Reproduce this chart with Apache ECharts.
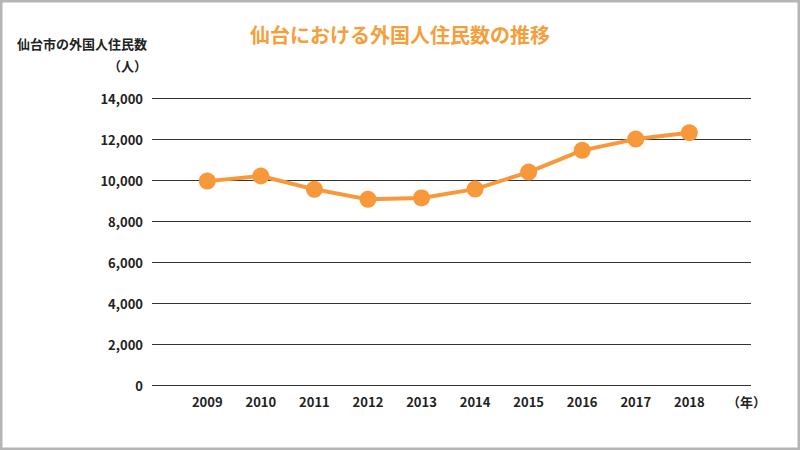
<!DOCTYPE html>
<html>
<head>
<meta charset="utf-8">
<script src="https://cdn.jsdelivr.net/npm/echarts@6/dist/echarts.min.js"></script>
<style>
html,body{margin:0;padding:0;background:#fff;}
#chart{width:800px;height:450px;}
</style>
</head>
<body>
<div id="chart"></div>
<script>
var years = ['2009','2010','2011','2012','2013','2014','2015','2016','2017','2018'];
var residents = [9960, 10210, 9560, 9070, 9140, 9570, 10400, 11460, 12010, 12320];
var yTicks = {min: 0, max: 14000, interval: 2000};
var titleText = '仙台における外国人住民数の推移';
var yName = '仙台市の外国人住民数';
var yUnit = '（人）';
var xUnit = '（年）';

var FONT = '"Noto Sans CJK JP", "Noto Sans", sans-serif';
var ORANGE = '#f7993a';
var chart = echarts.init(document.getElementById('chart'), null, {renderer: 'svg'});
var gTop = 98.3, gBottom = 64.7;
chart.setOption({
  backgroundColor: '#fff',
  animation: false,
  title: [
    {text: titleText, left: 'center', top: 19,
     textStyle: {color: '#f59f3c', fontSize: 20, fontWeight: 'bold', fontFamily: FONT}},
    {text: yName, left: 12, top: 32,
     textStyle: {color: '#222', fontSize: 13, fontWeight: 'bold', fontFamily: FONT}},
    {text: yUnit, right: 800 - 152, top: 54,
     textStyle: {color: '#222', fontSize: 13, fontWeight: 'bold', fontFamily: FONT}}
  ],
  graphic: [{
    type: 'rect', silent: true, z: 100,
    shape: {x: 1, y: 1, width: 798, height: 448},
    style: {fill: 'none', stroke: '#b5b5b5', lineWidth: 3}
  }],
  grid: [
    {left: 152, right: 49, top: gTop, bottom: gBottom},
    {left: 180.5, right: 800 - 716.1, top: gTop, bottom: gBottom}
  ],
  xAxis: [
    {gridIndex: 0, type: 'category', data: years, show: false},
    {gridIndex: 1, type: 'category', data: years, boundaryGap: true,
     axisLine: {show: false}, axisTick: {show: false},
     axisLabel: {color: '#222', fontSize: 13, fontWeight: 'bold', fontFamily: FONT, margin: 10},
     name: xUnit, nameLocation: 'end', nameGap: 11,
     nameTextStyle: {color: '#222', fontSize: 13, fontWeight: 'bold', fontFamily: FONT,
                     verticalAlign: 'top', padding: [10, 0, 0, 0]}}
  ],
  yAxis: [
    {gridIndex: 0, type: 'value', min: yTicks.min, max: yTicks.max, interval: yTicks.interval,
     axisLine: {show: false}, axisTick: {show: false},
     axisLabel: {color: '#222', fontSize: 13, fontWeight: 'bold', fontFamily: FONT, margin: 9,
                 formatter: function (v) { return v.toLocaleString('en-US'); }},
     splitLine: {show: true, lineStyle: {color: '#333', width: 1}}},
    {gridIndex: 1, type: 'value', min: yTicks.min, max: yTicks.max, interval: yTicks.interval,
     show: false, splitLine: {show: false}}
  ],
  series: [{
    type: 'line', xAxisIndex: 1, yAxisIndex: 1, data: residents,
    symbol: 'circle', symbolSize: 17,
    lineStyle: {color: ORANGE, width: 4},
    itemStyle: {color: ORANGE}
  }]
});
</script>
</body>
</html>
